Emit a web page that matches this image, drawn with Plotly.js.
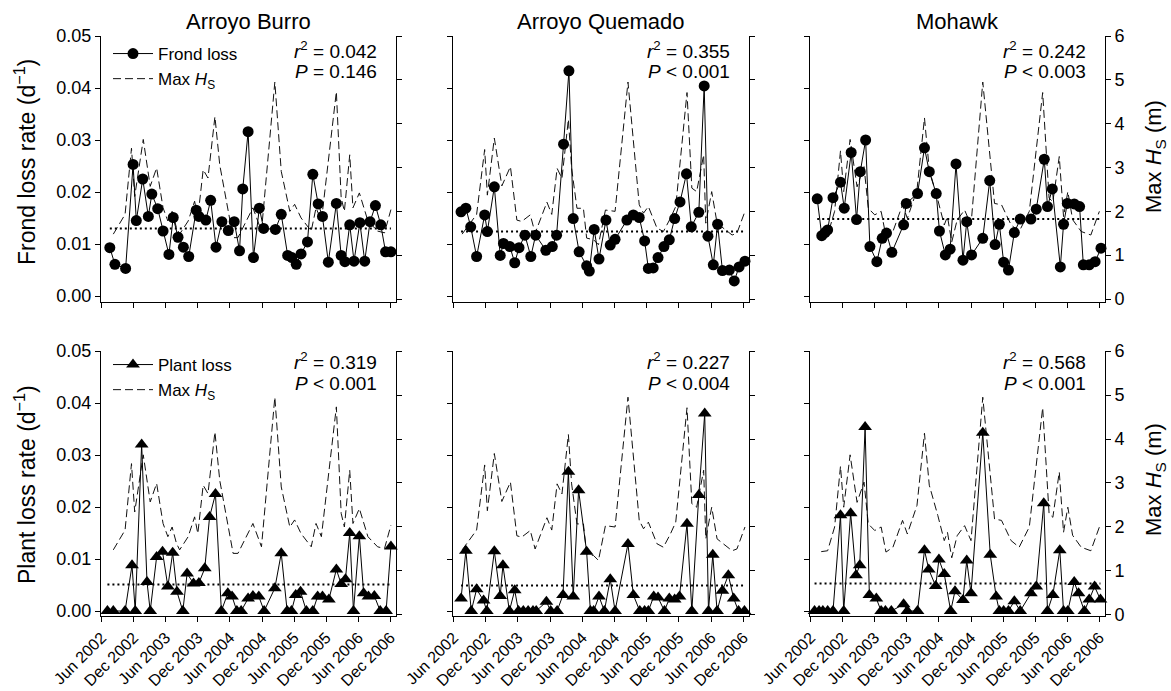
<!DOCTYPE html>
<html><head><meta charset="utf-8">
<script src="https://cdn.plot.ly/plotly-3.0.1.min.js"></script>
<style>html,body{margin:0;padding:0;background:#fff}#chart{width:1171px;height:691px}</style>
</head><body><div id="chart"></div>
<script>
const W = 1171, H = 691;
const siteNames = ["Arroyo Burro", "Arroyo Quemado", "Mohawk"];
const tickMonths = [0, 6, 12, 18, 24, 30, 36, 42, 48, 54];
const tickLabels = ["Jun 2002", "Dec 2002", "Jun 2003", "Dec 2003", "Jun 2004", "Dec 2004", "Jun 2005", "Dec 2005", "Jun 2006", "Dec 2006"];
const rateTicks = [0, 0.01, 0.02, 0.03, 0.04, 0.05];
const hsTicks = [0, 1, 2, 3, 4, 5, 6];

// months since Jun 2002
const abFrondMonth = [1.55,2.5,4.5,5.9,6.5,7.7,8.75,9.4,10.5,11.5,12.6,13.4,14.3,15.3,16.3,17.7,18.2,19.5,20.4,21.4,22.5,23.7,24.8,25.8,26.4,27.4,28.4,29.5,30.3,32.5,33.6,34.8,35.6,36.4,37.3,38.5,39.5,40.5,41.3,42.4,43.9,44.8,45.5,46.4,47.2,48.3,49.2,50.2,51.2,52.2,53.1,54.1];
const abFrondRate = [0.0093,0.0061,0.0053,0.0253,0.0145,0.0225,0.0153,0.0196,0.0168,0.0125,0.0080,0.0151,0.0113,0.0094,0.0076,0.0165,0.0153,0.0146,0.0184,0.0094,0.0143,0.0126,0.0143,0.0087,0.0206,0.0316,0.0074,0.0169,0.0130,0.0128,0.0157,0.0078,0.0074,0.0061,0.0081,0.0104,0.0234,0.0177,0.0153,0.0065,0.0178,0.0078,0.0066,0.0137,0.0067,0.0141,0.0067,0.0143,0.0174,0.0137,0.0085,0.0085];
const abPlantMonth = [1.1,2.2,4.4,5.7,6.3,7.5,8.5,9.1,10.3,11.4,12.4,13.3,14.1,15.2,16.0,17.2,18.2,19.3,20.2,21.3,22.4,23.6,24.4,25.3,26.1,27.4,28.3,29.4,30.4,32.4,33.6,34.7,35.5,36.3,37.2,38.3,39.5,40.4,41.3,42.5,43.9,44.8,45.6,46.4,47.1,48.2,49.0,49.9,51.0,52.1,53.2,54.1];
const abPlantRate = [0,0,0,0.0088,0,0.0320,0.0056,0,0.0104,0.0114,0.0047,0.0112,0.0037,0,0.0072,0.0053,0.0054,0.0082,0.0181,0.0225,0,0.0034,0.0028,0,0,0.0024,0.0029,0.0028,0,0.0044,0.0111,0,0,0.0031,0.0037,0,0,0.0028,0.0028,0.0022,0.0080,0.0052,0.0061,0.0150,0,0.0144,0.0034,0.0028,0.0029,0,0,0.0124];
const abHsMonth = [2.2,4.4,5.6,6.2,7.8,9.1,10.3,11.5,12.4,13.2,14.0,14.6,16.2,17.4,18.0,19.0,19.9,21.2,22.1,23.6,24.6,25.5,26.8,28.3,29.9,32.4,33.6,35.2,36.1,37.3,39.2,40.1,41.1,43.9,44.8,45.4,46.4,47.0,48.2,49.8,51.6,52.9,54.1];
const abHs = [1.48,1.93,3.44,2.34,3.64,2.57,2.99,2.08,1.78,2.0,1.63,1.48,1.78,2.23,1.85,2.95,2.76,4.16,3.06,2.08,1.40,1.40,1.70,2.08,1.55,4.95,2.91,2.0,2.16,1.85,1.55,2.08,1.78,4.73,2.31,2.0,3.29,2.08,2.42,1.78,1.55,1.51,2.04];

const aqFrondMonth = [1.4,2.3,3.2,4.3,5.8,6.3,7.6,8.7,9.3,10.5,11.4,12.2,13.3,14.4,15.3,17.2,18.4,19.2,20.5,21.5,22.3,23.4,24.8,25.3,26.2,27.1,28.4,29.2,30.1,32.3,33.5,34.6,35.6,36.3,37.2,38.1,39.2,40.2,41.2,42.2,43.4,44.3,45.7,46.7,47.4,48.4,49.2,50.1,51.4,52.3,53.2,54.3];
const aqFrondRate = [0.0162,0.0169,0.0133,0.0076,0.0156,0.0124,0.0210,0.0078,0.0101,0.0095,0.0064,0.0093,0.0117,0.0076,0.0117,0.0088,0.0095,0.0117,0.0292,0.0433,0.0149,0.0085,0.0058,0.0048,0.0128,0.0071,0.0146,0.0098,0.0109,0.0146,0.0156,0.0151,0.0106,0.0053,0.0054,0.0074,0.0095,0.0108,0.0149,0.0181,0.0235,0.0133,0.0161,0.0404,0.0115,0.0060,0.0138,0.0049,0.0050,0.0029,0.0056,0.0067];
const aqPlantMonth = [1.4,2.3,3.3,4.3,5.6,6.2,7.6,8.7,9.2,10.4,11.4,12.1,13.0,13.9,14.8,15.4,17.3,18.1,19.3,20.4,21.4,22.3,23.3,24.8,25.5,26.1,27.1,28.1,29.2,30.1,32.5,33.5,34.7,35.6,36.3,37.3,38.1,39.3,40.2,41.2,42.1,43.5,44.4,45.7,46.8,47.5,48.3,49.1,50.1,51.2,52.2,53.1,54.2];
const aqPlantRate = [0.0024,0.0116,0,0.0042,0.0020,0,0.0115,0.0029,0.0088,0,0.0040,0,0,0,0,0,0.0018,0,0,0.0031,0.0268,0.0028,0.0232,0.0114,0,0,0.0028,0,0.0061,0,0.0129,0.0031,0,0,0,0.0028,0.0026,0,0.0024,0.0022,0.0028,0.0168,0,0.0223,0.0380,0,0.0108,0,0.0039,0.0069,0.0024,0,0];
const aqHsMonth = [1.6,4.3,5.8,6.3,7.6,9.0,10.6,11.8,12.7,14.3,15.2,17.4,18.3,19.3,20.2,21.4,22.0,23.0,24.2,24.8,26.1,27.0,28.3,30.1,32.5,34.6,35.4,36.3,37.9,39.1,40.4,41.4,43.5,44.4,45.3,46.6,47.0,48.1,49.1,50.3,51.9,52.8,54.3];
const aqHs = [1.48,1.93,3.41,2.37,3.67,2.58,3.02,1.80,1.77,1.92,1.50,2.21,1.93,2.98,2.75,4.10,2.98,2.07,2.07,1.39,1.35,1.24,2.03,2.0,4.95,2.15,1.96,2.11,1.62,1.54,1.84,2.11,4.71,2.53,2.45,3.29,1.73,2.45,1.73,1.62,1.46,1.50,2.0];

const moFrondMonth = [1.25,2.1,2.7,3.2,4.2,5.6,6.3,7.6,8.6,9.3,10.3,11.1,12.4,13.4,14.2,15.2,17.4,17.9,20.0,21.3,22.2,23.5,24.1,25.2,26.1,27.2,28.5,29.2,30.1,32.2,33.5,34.5,35.3,36.1,37.0,38.1,39.2,41.2,42.2,43.7,44.3,45.2,46.7,47.3,48.0,49.3,50.3,51.0,52.1,53.2,54.3];
const moFrondRate = [0.0187,0.0116,0.0122,0.0127,0.0189,0.0219,0.0169,0.0276,0.0147,0.0239,0.0300,0.0095,0.0066,0.0111,0.0121,0.0084,0.0137,0.0178,0.0197,0.0285,0.0239,0.0197,0.0125,0.0079,0.0090,0.0254,0.0069,0.0143,0.0079,0.0111,0.0222,0.0099,0.0138,0.0065,0.0050,0.0122,0.0148,0.0148,0.0167,0.0263,0.0172,0.0206,0.0056,0.0138,0.0178,0.0177,0.0172,0.0060,0.0060,0.0066,0.0092];
const moPlantMonth = [0.75,1.6,2.3,3.2,4.2,5.6,6.2,7.5,8.5,9.2,10.2,11.0,12.3,13.2,14.0,15.1,17.4,18.1,20.0,21.3,22.1,23.4,24.0,25.0,26.2,27.0,28.5,29.2,30.0,32.2,33.6,34.7,35.3,36.1,37.0,38.1,39.2,41.2,42.2,43.6,44.3,45.3,46.6,47.3,48.1,49.3,50.1,51.2,52.1,53.1,54.2];
const moPlantRate = [0,0,0,0,0,0.0184,0,0.0188,0.0069,0.0088,0.0354,0.0031,0.0024,0,0,0,0.0013,0,0,0.0117,0.0080,0.0048,0.0099,0.0071,0,0.0038,0.0021,0.0097,0.0034,0.0343,0.0108,0.0028,0,0,0,0.0019,0,0.0034,0.0047,0.0207,0,0.0031,0.0117,0,0,0.0056,0.0034,0,0.0022,0.0047,0.0022];
const moHsMonth = [2.0,3.2,4.5,5.6,6.2,7.4,8.7,10.0,10.8,12.0,13.2,14.1,15.4,17.2,18.1,19.9,21.3,22.2,23.8,25.0,25.6,26.4,27.4,28.8,30.0,32.2,34.4,35.7,37.5,39.0,40.9,43.4,44.6,45.3,46.5,47.3,48.1,49.0,50.6,52.4,54.0];
const moHs = [1.44,1.46,2.0,3.38,2.45,3.64,2.56,3.02,2.07,1.92,2.0,1.43,1.54,2.15,1.84,2.49,4.13,2.95,2.26,1.69,1.88,1.30,1.80,2.03,1.69,4.95,2.18,2.15,1.69,1.54,2.0,4.71,2.30,2.22,3.25,1.88,2.45,1.81,1.54,1.46,2.0];

const frondMean = [0.0130, 0.0124, 0.0148];
const plantMean = [0.0051, 0.0049, 0.0053];
const frondR2 = ["0.042", "0.355", "0.242"];
const frondP = ["= 0.146", "&lt; 0.001", "&lt; 0.003"];
const plantR2 = ["0.319", "0.227", "0.568"];
const plantP = ["&lt; 0.001", "&lt; 0.004", "&lt; 0.001"];

const rows = [
  { label: "Frond loss", symbol: "circle", size: 11,
    months: [abFrondMonth, aqFrondMonth, moFrondMonth],
    rates: [abFrondRate, aqFrondRate, moFrondRate],
    mean: frondMean, r2: frondR2, p: frondP,
    title: "Frond loss rate (d<sup>\u22121</sup>)" },
  { label: "Plant loss", symbol: "triangle-up", size: 12,
    months: [abPlantMonth, aqPlantMonth, moPlantMonth],
    rates: [abPlantRate, aqPlantRate, moPlantRate],
    mean: plantMean, r2: plantR2, p: plantP,
    title: "Plant loss rate (d<sup>\u22121</sup>)" }
];
const hsMonths = [abHsMonth, aqHsMonth, moHsMonth];
const hsValues = [abHs, aqHs, moHs];

// layout geometry (px)
const colX = [[101, 396], [453, 749], [810, 1105]];
const rowY = [[36, 302], [351, 616]];
const rateRange = [[-0.00115, 0.05], [-0.00096, 0.05]];
const hsRange = [[-0.068, 6], [-0.023, 6]];
const statY = [[50, 72], [361, 383]];
const legendTop = [36, 347];
const titleY = [162, 485];

const FONT = "Liberation Sans, Arial, Helvetica, sans-serif";
const traces = [];
const layout = {
  width: W, height: H,
  margin: { l: 0, r: 0, t: 0, b: 0 },
  paper_bgcolor: "#fff", plot_bgcolor: "rgba(0,0,0,0)",
  font: { family: FONT, size: 16, color: "#000" },
  showlegend: true,
  annotations: []
};

function px(x) { return x / W; }
function py(y) { return 1 - y / H; }

for (let r = 0; r < 2; r++) {
  const row = rows[r];
  const legendId = r === 0 ? "legend" : "legend2";
  layout[legendId] = {
    x: px(108), y: py(legendTop[r]), xanchor: "left", yanchor: "top",
    bgcolor: "rgba(0,0,0,0)", font: { family: FONT, size: 17, color: "#000" },
    tracegroupgap: 0, itemwidth: 40, traceorder: "normal"
  };
  for (let c = 0; c < 3; c++) {
    const idx = r * 3 + c + 1;
    const xa = "x" + idx, ya = "y" + idx, ya2 = "y" + (idx + 6);
    const common = {
      showline: true, linecolor: "#000", linewidth: 1, ticks: "outside",
      ticklen: 5, tickwidth: 1, tickcolor: "#000", showgrid: false, zeroline: false,
      tickfont: { family: FONT, size: 18, color: "#000" }
    };
    layout["xaxis" + idx] = Object.assign({}, common, {
      domain: [px(colX[c][0]), px(colX[c][1])], anchor: ya,
      range: [-0.1, 55.05], tickmode: "array", tickvals: tickMonths, ticktext: tickLabels,
      showticklabels: r === 1, tickangle: -45, tickfont: { family: FONT, size: 16, color: "#000" }
    });
    layout["yaxis" + idx] = Object.assign({}, common, {
      domain: [py(rowY[r][1]), py(rowY[r][0])], anchor: xa, side: "right",
      range: hsRange[r], tickmode: "array", tickvals: hsTicks,
      showticklabels: c === 2
    });
    layout["yaxis" + (idx + 6)] = Object.assign({}, common, {
      overlaying: ya, anchor: xa, side: "left",
      range: rateRange[r], tickmode: "array", tickvals: rateTicks, tickformat: ".2f",
      showticklabels: c === 0
    });

    // Max Hs dashed (base axis, drawn beneath)
    traces.push({
      type: "scatter", mode: "lines", x: hsMonths[c], y: hsValues[c],
      xaxis: xa, yaxis: ya, name: "Max <i>H</i><sub>S</sub>",
      line: { color: "#111", width: 1, dash: "8px,4px" },
      showlegend: c === 0, legend: legendId, legendrank: 2, hoverinfo: "skip"
    });
    // mean dotted line
    const mx = row.months[c];
    traces.push({
      type: "scatter", mode: "lines",
      x: [mx[0], mx[mx.length - 1]], y: [row.mean[c], row.mean[c]],
      xaxis: xa, yaxis: ya2, showlegend: false,
      line: { color: "#000", width: 2, dash: "2px,3px" }, hoverinfo: "skip"
    });
    // loss rate
    traces.push({
      type: "scatter", mode: "lines+markers", x: row.months[c], y: row.rates[c],
      xaxis: xa, yaxis: ya2, name: row.label,
      line: { color: "#000", width: 1 },
      marker: { symbol: row.symbol, size: row.size, color: "#000", line: { width: 0 } },
      showlegend: c === 0, legend: legendId, legendrank: 1, cliponaxis: false
    });

    // stats
    const xr = px(colX[c][1] - 17);
    layout.annotations.push({
      xref: "paper", yref: "paper", x: xr, y: py(statY[r][0]), xanchor: "right", yanchor: "middle",
      text: "<i>r</i><sup>2</sup> = " + row.r2[c], showarrow: false,
      font: { family: FONT, size: 19, color: "#000" }
    });
    layout.annotations.push({
      xref: "paper", yref: "paper", x: xr, y: py(statY[r][1]), xanchor: "right", yanchor: "middle",
      text: "<i>P</i> " + row.p[c], showarrow: false,
      font: { family: FONT, size: 19, color: "#000" }
    });
  }
  // left axis title
  layout.annotations.push({
    xref: "paper", yref: "paper", x: px(25), y: py(titleY[r]), xanchor: "center", yanchor: "middle",
    text: row.title, textangle: -90, showarrow: false,
    font: { family: FONT, size: 23, color: "#000" }
  });
  // right axis title
  layout.annotations.push({
    xref: "paper", yref: "paper", x: px(1155), y: py(titleY[r] - 5), xanchor: "center", yanchor: "middle",
    text: "Max <i>H</i><sub>S</sub> (m)", textangle: -90, showarrow: false,
    font: { family: FONT, size: 22, color: "#000" }
  });
}
// column titles
for (let c = 0; c < 3; c++) {
  layout.annotations.push({
    xref: "paper", yref: "paper", x: px((colX[c][0] + colX[c][1]) / 2), y: py(21),
    xanchor: "center", yanchor: "middle", text: siteNames[c], showarrow: false,
    font: { family: FONT, size: 22, color: "#000" }
  });
}

Plotly.newPlot("chart", traces, layout, { displayModeBar: false, staticPlot: true });
</script>
</body></html>
